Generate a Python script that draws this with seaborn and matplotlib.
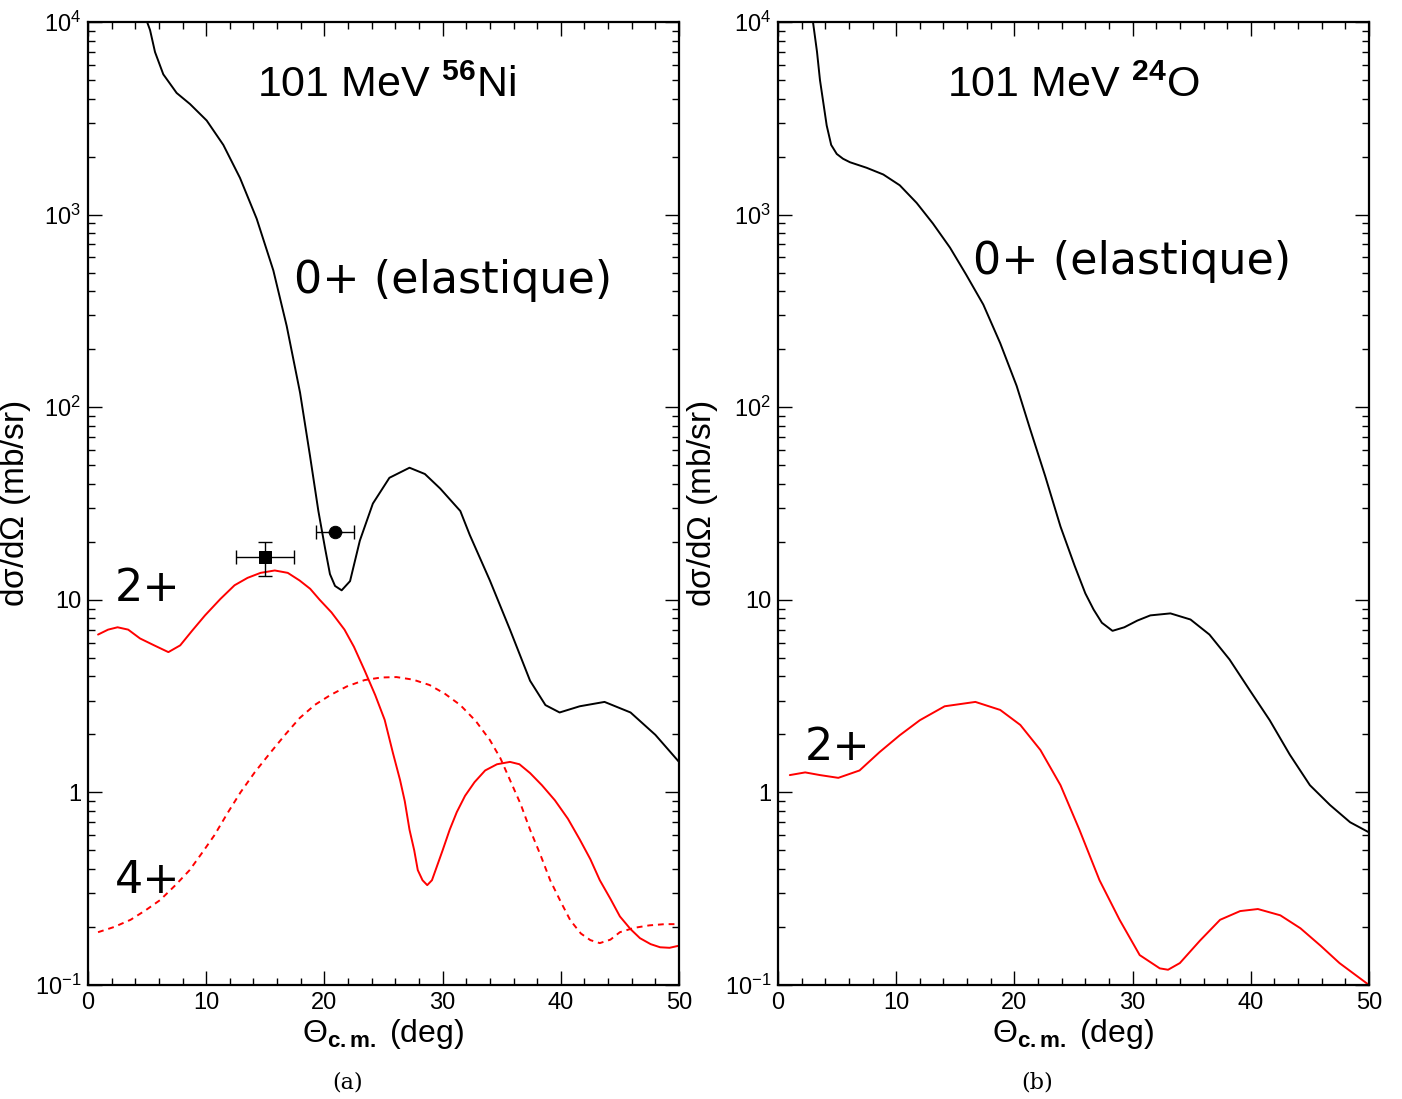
import numpy as np
import pandas as pd
import matplotlib
matplotlib.use("Agg")
import matplotlib.pyplot as plt
import seaborn as sns
from matplotlib.ticker import FixedLocator, LogLocator, NullFormatter, MultipleLocator

sns.set_theme(style="white")
plt.rcParams['font.family'] = ['Liberation Sans', 'DejaVu Sans']
plt.rcParams['text.color'] = 'black'
plt.rcParams['axes.labelcolor'] = 'black'
plt.rcParams['xtick.color'] = 'black'
plt.rcParams['ytick.color'] = 'black'
plt.rcParams['mathtext.fontset'] = 'custom'
plt.rcParams['mathtext.rm'] = 'Liberation Sans'
plt.rcParams['mathtext.it'] = 'Liberation Sans'
plt.rcParams['mathtext.bf'] = 'Liberation Sans:bold'

# ---------------- data: panel (a) 101 MeV 56Ni ----------------
ni_el_x = [5.0, 5.25, 5.67, 6.37, 7.5, 8.63, 10.04, 11.45, 12.86, 14.27, 15.68, 16.81, 17.94,
           18.78, 19.49, 20.05, 20.47, 20.9, 21.46, 22.17, 23.0, 24.1, 25.5, 27.2, 28.5,
           29.8, 31.5, 32.3, 34.0, 35.7, 37.4, 38.7, 39.9, 41.6, 43.7, 45.9, 48.0, 50.0]
ni_el_y = [10000, 9080, 6980, 5350, 4280, 3750, 3080, 2300, 1550, 952, 513, 264, 119,
           56, 28.9, 18.6, 13.6, 11.8, 11.2, 12.5, 20.3, 31.6, 43, 48.5, 45,
           37.8, 28.9, 21.7, 12.6, 7.0, 3.8, 2.84, 2.6, 2.8, 2.95, 2.6, 1.99, 1.44]

ni_2p_x = [0.85, 1.7, 2.5, 3.4, 4.4, 5.6, 6.8, 7.8, 8.8, 9.9, 11.2, 12.4, 13.5, 14.6, 15.8,
           16.9, 17.9, 18.8, 19.6, 20.6, 21.7, 22.5, 23.4, 24.3, 25.1, 25.8, 26.4, 26.8,
           27.2, 27.6, 27.9, 28.3, 28.7, 29.1, 29.5, 30.0, 30.6, 31.2, 31.9, 32.7, 33.6,
           34.6, 35.7, 36.5, 37.4, 38.4, 39.5, 40.6, 41.6, 42.5, 43.3, 44.2, 45.0, 45.9,
           46.7, 47.6, 48.4, 49.2, 50.0]
ni_2p_y = [6.6, 7.0, 7.2, 7.0, 6.3, 5.8, 5.35, 5.8, 6.9, 8.3, 10.1, 11.9, 13.0, 13.8, 14.2,
           13.8, 12.6, 11.4, 10.0, 8.6, 7.0, 5.7, 4.3, 3.2, 2.38, 1.6, 1.16, 0.9,
           0.64, 0.5, 0.395, 0.35, 0.33, 0.35, 0.41, 0.5, 0.64, 0.79, 0.96, 1.13, 1.3,
           1.4, 1.44, 1.4, 1.26, 1.09, 0.91, 0.73, 0.57, 0.45, 0.35, 0.28, 0.227, 0.195,
           0.175, 0.163, 0.157, 0.156, 0.16]

ni_4p_x = [0.85, 2.2, 3.6, 4.9, 6.1, 7.4, 8.6, 9.7, 10.7, 11.8, 12.9, 14.1, 15.4, 16.7,
           17.9, 19.2, 20.5, 21.9, 23.4, 24.8, 26.1, 27.5, 28.9, 30.2, 31.5, 32.8, 34.0,
           34.9, 35.7, 36.6, 37.4, 38.3, 39.1, 40.0, 40.8, 41.7, 42.5, 43.3, 44.2, 45.0,
           46.2, 47.5, 48.8, 50.0]
ni_4p_y = [0.188, 0.2, 0.218, 0.245, 0.276, 0.33, 0.395, 0.49, 0.6, 0.78, 1.0, 1.27, 1.6,
           2.0, 2.43, 2.85, 3.2, 3.55, 3.83, 3.95, 3.97, 3.85, 3.61, 3.25, 2.84, 2.35, 1.87,
           1.5, 1.16, 0.87, 0.64, 0.47, 0.35, 0.27, 0.217, 0.185, 0.171, 0.165, 0.172, 0.188,
           0.198, 0.204, 0.207, 0.207]

# ---------------- data: panel (b) 101 MeV 24O ----------------
o_el_x = [2.96, 3.3, 3.55, 4.12, 4.5, 4.97, 5.5, 6.09, 7.5, 8.91, 10.3, 11.73, 13.1, 14.55,
          15.9, 17.37, 18.8, 20.19, 21.3, 22.6, 23.9, 25.1, 26.0, 26.7, 27.4, 28.3, 29.3,
          30.4, 31.5, 33.2, 34.9, 36.5, 38.2, 39.9, 41.6, 43.3, 45.0, 46.7, 48.4, 50.0]
o_el_y = [10000, 7000, 5000, 2900, 2300, 2065, 1950, 1870, 1750, 1615, 1420, 1150, 900, 674,
          490, 341, 215, 129, 78, 44, 24, 15, 10.8, 8.9, 7.6, 6.9, 7.2,
          7.8, 8.3, 8.5, 7.9, 6.6, 4.9, 3.4, 2.37, 1.57, 1.09, 0.86, 0.70, 0.62]

o_2p_x = [1.0, 2.3, 3.55, 5.1, 6.9, 8.6, 10.3, 12.0, 14.1, 16.7, 18.8, 20.5, 22.2, 23.9,
          25.5, 27.2, 28.9, 30.6, 32.3, 33.0, 34.0, 35.7, 37.4, 39.1, 40.6, 42.5, 44.2,
          45.9, 47.5, 50.0]
o_2p_y = [1.23, 1.27, 1.23, 1.19, 1.3, 1.62, 1.98, 2.37, 2.8, 2.95, 2.68, 2.24, 1.66, 1.09,
          0.64, 0.35, 0.218, 0.143, 0.122, 0.12, 0.13, 0.17, 0.218, 0.242, 0.248, 0.23, 0.197,
          0.16, 0.13, 0.1]

# experimental points (panel a)
exp_x = [15.0, 20.9]
exp_y = [16.7, 22.5]
exp_xerr = [2.47, 1.6]
exp_yerr_lo = [3.4, 0.0]
exp_yerr_hi = [3.2, 0.0]

ytick_vals = [0.1, 1, 10, 100, 1000, 10000]
ytick_labels = [r'10$^{-1}$', '1', '10', r'10$^{2}$', r'10$^{3}$', r'10$^{4}$']
xtick_vals = [0, 10, 20, 30, 40, 50]

fig = plt.figure(figsize=(14.02, 10.99), dpi=100)
axA = fig.add_axes([88/1402, 1-985/1099, 591/1402, 963/1099])
axB = fig.add_axes([778/1402, 1-985/1099, 591/1402, 963/1099])

def style(ax, ylab_x):
    ax.set_yscale('log')
    ax.set_xlim(0, 50)
    ax.set_ylim(0.1, 10000)
    ax.xaxis.set_major_locator(FixedLocator(xtick_vals))
    ax.xaxis.set_minor_locator(MultipleLocator(2))
    ax.set_xticklabels([str(v) for v in xtick_vals])
    ax.yaxis.set_major_locator(FixedLocator(ytick_vals))
    ax.set_yticklabels(ytick_labels)
    ax.yaxis.set_minor_locator(LogLocator(base=10, subs=np.arange(2, 10), numticks=20))
    ax.yaxis.set_minor_formatter(NullFormatter())
    ax.tick_params(which='both', direction='in', top=True, right=True, bottom=True, left=True,
                   colors='black', labelcolor='black', labelsize=17, width=1.0, pad=5)
    ax.tick_params(which='major', length=10)
    ax.tick_params(which='minor', length=5)
    for s in ax.spines.values():
        s.set_color('black')
        s.set_linewidth(1.6)
    ax.set_xlabel(r'$\Theta_{\mathbf{c.m.}}$ (deg)', fontsize=23, labelpad=2, color='black')
    ax.set_ylabel(r'd$\sigma$/d$\Omega$ (mb/sr)', fontsize=24, color='black')
    ax.yaxis.set_label_coords(ylab_x, 0.5)
    ax.grid(False)

def line(ax, xs, ys, color, ls='-'):
    df = pd.DataFrame({'x': xs, 'y': ys})
    sns.lineplot(data=df, x='x', y='y', ax=ax, color=color, lw=1.4, linestyle=ls,
                 sort=False, estimator=None)

line(axA, ni_el_x, ni_el_y, 'black')
line(axA, ni_2p_x, ni_2p_y, '#ff0000')
line(axA, ni_4p_x, ni_4p_y, '#ff0000', ls=(0, (3, 2.5)))
axA.errorbar(exp_x, exp_y, xerr=exp_xerr, yerr=[exp_yerr_lo, exp_yerr_hi], fmt='none',
             ecolor='black', elinewidth=1.0, capsize=5, capthick=1.0, zorder=5)
sns.scatterplot(x=exp_x[:1], y=exp_y[:1], ax=axA, marker='s', s=80, color='black',
                edgecolor='black', zorder=6)
sns.scatterplot(x=exp_x[1:], y=exp_y[1:], ax=axA, marker='o', s=80, color='black',
                edgecolor='black', zorder=6)

line(axB, o_el_x, o_el_y, 'black')
line(axB, o_2p_x, o_2p_y, '#ff0000')

style(axA, -0.093)
style(axB, -0.098)

ann = ['DejaVu Sans']
# annotations
axA.text(0.505, 0.955, r'101 MeV $^{\mathbf{56}}$Ni', transform=axA.transAxes, ha='center',
         va='top', fontsize=31)
axA.text(0.618, 0.732, '0+ (elastique)', transform=axA.transAxes, ha='center', va='center',
         fontsize=32, family=ann)
axA.text(0.045, 0.412, '2+', transform=axA.transAxes, ha='left', va='center', fontsize=32,
         family=ann)
axA.text(0.045, 0.108, '4+', transform=axA.transAxes, ha='left', va='center', fontsize=32,
         family=ann)

axB.text(0.5, 0.955, r'101 MeV $^{\mathbf{24}}$O', transform=axB.transAxes, ha='center',
         va='top', fontsize=31)
axB.text(0.599, 0.751, '0+ (elastique)', transform=axB.transAxes, ha='center', va='center',
         fontsize=32, family=ann)
axB.text(0.045, 0.247, '2+', transform=axB.transAxes, ha='left', va='center', fontsize=32,
         family=ann)

fig.text(348/1402, 1-1083/1099, '(a)', ha='center', va='center', fontsize=16,
         family='DejaVu Serif')
fig.text(1037/1402, 1-1083/1099, '(b)', ha='center', va='center', fontsize=16,
         family='DejaVu Serif')

fig.savefig('out.png', dpi=100)
